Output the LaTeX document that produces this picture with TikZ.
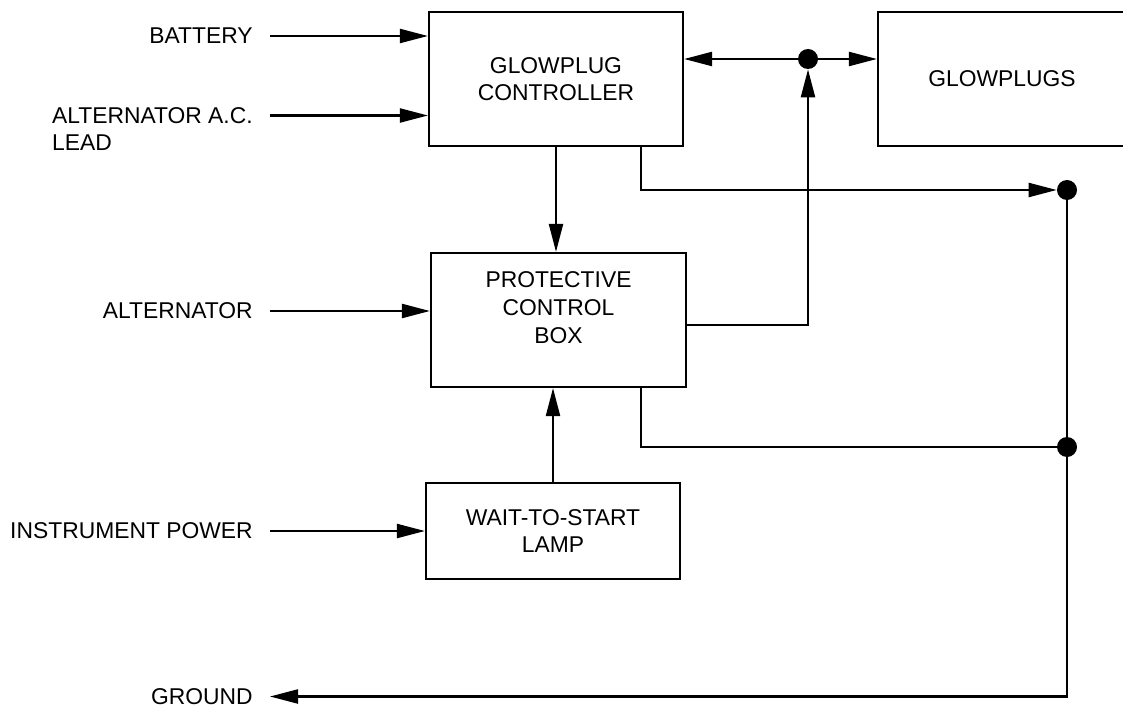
\documentclass[tikz,border=0pt]{standalone}
\usepackage{fontspec}
\setmainfont{Liberation Sans}
\usetikzlibrary{positioning,arrows.meta,calc}

\begin{document}
\begin{tikzpicture}[
    unit/.style={rectangle,draw=black,line width=1.25pt,minimum width=5.08cm,minimum height=2.68cm,align=center,font=\fontsize{13}{15.5}\selectfont},
    signal/.style={font=\fontsize{13}{15.5}\selectfont,inner xsep=0.34cm,inner ysep=0.1cm},
    junction/.style={circle,fill=black,inner sep=0pt,minimum size=0.4cm},
    arrow/.style={-{Triangle[length=0.56cm,width=0.28cm]},line width=1.25pt},
    wire/.style={line width=1.25pt}
]
\useasboundingbox (0,0) rectangle (22.46,-14.18);

% Main units
\node[unit] (controller) at (11.12,-1.58) {GLOWPLUG\\CONTROLLER};
\node[unit,minimum width=4.96cm] (glowplugs) at (20.04,-1.58) {GLOWPLUGS};
\node[unit,minimum width=5.10cm] (protective) at (11.17,-6.40) {};
\node[align=center,font=\fontsize{13}{16}\selectfont] (protective-text) at (11.17,-6.15) {PROTECTIVE\\CONTROL\\BOX};
\node[unit,minimum height=1.92cm] (lamp) at (11.06,-10.62) {WAIT-TO-START\\LAMP};

% Junctions
\node[junction] (junction-top) at (16.16,-1.18) {};
\node[junction] (junction-a) at (21.34,-3.80) {};
\node[junction] (junction-b) at (21.34,-8.94) {};

% Input signals
\node[signal,anchor=east] (battery) at (5.4,-0.72) {BATTERY};
\node[signal,anchor=east,label={[signal,anchor=north west]south west:LEAD}] (alt-ac) at (5.4,-2.31) {ALTERNATOR A.C.};
\node[signal,anchor=east] (alternator) at (5.4,-6.22) {ALTERNATOR};
\node[signal,anchor=east] (instrument) at (5.4,-10.62) {INSTRUMENT POWER};
\node[signal,anchor=east,inner ysep=0pt] (ground) at (5.4,-13.93) {GROUND};

\draw[arrow] (battery.east) -- (battery.east -| controller.west);
\draw[arrow] (alt-ac.east) -- (alt-ac.east -| controller.west);
\draw[arrow] (alternator.east) -- (alternator.east -| protective.west);
\draw[arrow] (instrument.east) -- (instrument.east -| lamp.west);

% Controller to glowplugs
\draw[arrow] (junction-top) -- (junction-top -| controller.east);
\draw[arrow] (junction-top) -- (junction-top -| glowplugs.west);
\draw[arrow] ([yshift=-0.1cm]protective.east) -| (junction-top);

% Vertical links
\draw[arrow] (controller.south) -- (controller.south |- protective.north);
\draw[arrow] (lamp.north) -- (lamp.north |- protective.south);

% Ground return
\draw[arrow] ([xshift=-0.86cm]controller.south east) |- (junction-a);
\draw[wire] ([xshift=-0.92cm]protective.south east) |- (junction-b);
\draw[arrow] (junction-a) |- (ground.east);

\end{tikzpicture}
\end{document}
